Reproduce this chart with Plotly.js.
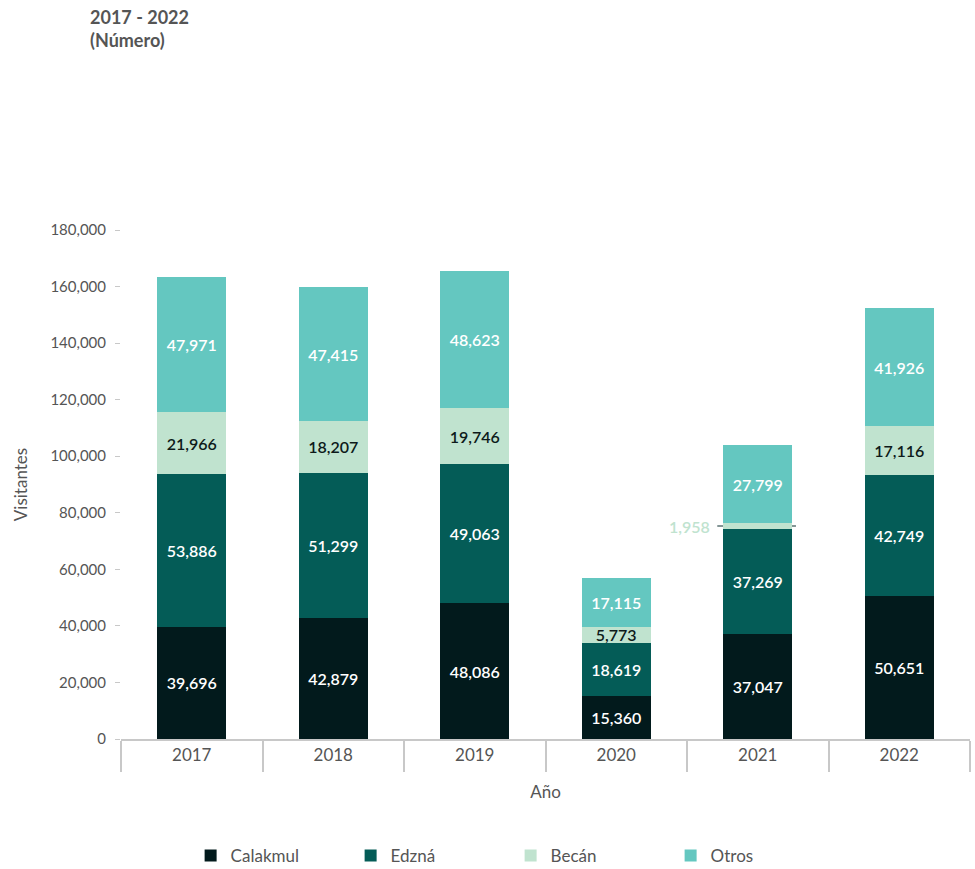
<!DOCTYPE html>
<html>
<head>
<meta charset="utf-8">
<script src="https://cdn.plot.ly/plotly-3.0.1.min.js"></script>
<style>html,body{margin:0;padding:0;background:#fff;}#chart{width:975px;height:869px;}</style>
</head>
<body>
<div id="chart"></div>
<script>
const years = ['2017', '2018', '2019', '2020', '2021', '2022'];
const calakmul = [39696, 42879, 48086, 15360, 37047, 50651];
const edzna = [53886, 51299, 49063, 18619, 37269, 42749];
const becan = [21966, 18207, 19746, 5773, 1958, 17116];
const otros = [47971, 47415, 48623, 17115, 27799, 41926];
const seriesNames = ['Calakmul', 'Edzná', 'Becán', 'Otros'];
const seriesColors = ['#021a1c', '#045c57', '#c0e3cf', '#64c7c0'];
const labelColors = ['#ffffff', '#ffffff', '#0d1a1a', '#ffffff'];
const yTicks = [0, 20000, 40000, 60000, 80000, 100000, 120000, 140000, 160000, 180000];
const titleLines = ['2017 - 2022', '(Número)'];

const fmt = v => v.toLocaleString('en-US');
const FONT = 'Lato, "Open Sans", sans-serif';
const allSeries = [calakmul, edzna, becan, otros];
const smallIdx = 4; // 2021 Becán shown outside

const traces = allSeries.map((vals, i) => ({
  type: 'bar',
  name: seriesNames[i],
  x: years,
  y: vals,
  marker: {color: seriesColors[i], line: {width: 0}},
  text: vals.map((v, j) => (i === 2 && j === smallIdx) ? '' : fmt(v)),
  textposition: 'inside',
  insidetextanchor: 'middle',
  textangle: 0,
  constraintext: 'none',
  textfont: {family: FONT, size: 16, color: labelColors[i], weight: 600},
  hoverinfo: 'x+y+name'
}));

const bw = 0.49;
const yMid = calakmul[smallIdx] + edzna[smallIdx] + becan[smallIdx] / 2;

const layout = {
  width: 975,
  height: 869,
  paper_bgcolor: '#ffffff',
  plot_bgcolor: '#ffffff',
  barmode: 'stack',
  bargap: 1 - bw,
  font: {family: FONT, color: '#555555'},
  margin: {l: 121, r: 5, t: 230, b: 130, autoexpand: false},
  xaxis: {
    type: 'category',
    tickson: 'boundaries',
    ticks: 'outside',
    ticklen: 31,
    tickcolor: '#c8c8c8',
    tickwidth: 1.5,
    showline: true,
    linecolor: '#c8c8c8',
    linewidth: 1.5,
    showgrid: false,
    automargin: false,
    tickfont: {family: FONT, size: 17, color: '#555555'},
    title: {text: 'Año', font: {family: FONT, size: 17, color: '#555555'}, standoff: 22}
  },
  yaxis: {
    range: [0, 180000],
    tickvals: yTicks,
    ticktext: yTicks.map(fmt),
    ticks: 'outside',
    ticklen: 5,
    tickcolor: '#c8c8c8',
    ticklabelstandoff: 6,
    showline: false,
    showgrid: false,
    zeroline: false,
    automargin: false,
    tickfont: {family: FONT, size: 15, color: '#555555'},
    title: {text: 'Visitantes', font: {family: FONT, size: 17, color: '#555555'}, standoff: 18}
  },
  legend: {
    orientation: 'h',
    x: 0.082, xanchor: 'left',
    y: -0.23, yanchor: 'middle',
    entrywidth: 115,
    entrywidthmode: 'pixels',
    font: {family: FONT, size: 17, color: '#555555'},
    traceorder: 'normal'
  },
  shapes: [{
    type: 'line', xref: 'x', yref: 'y',
    x0: smallIdx - 0.286, x1: smallIdx + 0.27,
    y0: yMid, y1: yMid,
    line: {color: '#5a7272', width: 1.5},
    layer: 'below'
  }],
  annotations: [{
    xref: 'x', yref: 'y',
    x: smallIdx - 0.286, y: yMid,
    xanchor: 'right', yanchor: 'middle', xshift: -5,
    text: fmt(becan[smallIdx]),
    showarrow: false,
    font: {family: FONT, size: 16, color: '#c0e3cf', weight: 600}
  }, {
    xref: 'paper', yref: 'paper',
    x: (88 - 121) / 849, y: 1 + (230 - 4) / 509,
    xanchor: 'left', yanchor: 'top', align: 'left',
    text: titleLines.map(t => '<b>' + t + '</b>').join('<br>'),
    showarrow: false,
    font: {family: FONT, size: 18, color: '#555555'}
  }],
  showlegend: true
};

Plotly.newPlot('chart', traces, layout, {displayModeBar: false, responsive: false});
</script>
</body>
</html>
